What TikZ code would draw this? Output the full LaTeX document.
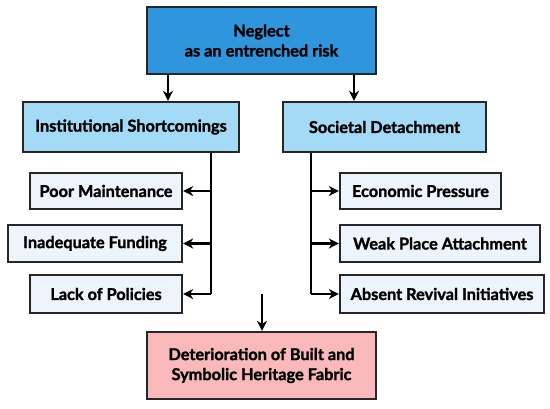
\documentclass[tikz,border=0pt]{standalone}
\usepackage{fontspec}
\setmainfont{Lato}[BoldFont={Lato Bold},BoldFeatures={FakeBold=1.5}]
\usetikzlibrary{arrows.meta}
\definecolor{topblue}{HTML}{2F95DC}
\definecolor{midblue}{HTML}{A3DBF6}
\definecolor{leafblue}{HTML}{EEF4FC}
\definecolor{pinkbox}{HTML}{F9B9BB}
\tikzset{
  box/.style={draw=black!85, line width=2.2pt, font=\bfseries\fontsize{16.3}{20}\selectfont, align=center, inner sep=0pt},
  arr/.style={line width=2.2pt, -{Stealth[length=10pt,width=10pt,inset=3pt]}},
  ln/.style={line width=2.2pt}
}
\begin{document}
\begin{tikzpicture}[x=1pt,y=-1pt]
\useasboundingbox (0,0) rectangle (550,408);
% top
\node[box, fill=topblue, minimum width=229pt, minimum height=67pt] (top) at (261.5,40.5) {Neglect\\as an entrenched risk};
% middle
\node[box, fill=midblue, minimum width=216pt, minimum height=50pt] (inst) at (131,127) {Institutional Shortcomings};
\node[box, fill=midblue, minimum width=203pt, minimum height=50pt] (soc) at (384.5,127) {Societal Detachment};
% leaves left
\node[box, fill=leafblue, minimum width=152pt, minimum height=36pt] (poor) at (106,191) {Poor Maintenance};
\node[box, fill=leafblue, minimum width=174pt, minimum height=37pt] (fund) at (95,243.5) {Inadequate Funding};
\node[box, fill=leafblue, minimum width=152pt, minimum height=38pt] (pol) at (106,294) {Lack of Policies};
% leaves right
\node[box, fill=leafblue, minimum width=161pt, minimum height=36pt] (eco) at (420.5,191) {Economic Pressure};
\node[box, fill=leafblue, minimum width=200pt, minimum height=37pt] (weak) at (440,243.5) {Weak Place Attachment};
\node[box, fill=leafblue, minimum width=204pt, minimum height=38pt] (abs) at (442,294) {Absent Revival Initiatives};
% bottom
\node[box, fill=pinkbox, minimum width=229pt, minimum height=67pt] (bot) at (261.5,365.5) {Deterioration of Built and\\Symbolic Heritage Fabric};
% connectors
\draw[arr] (top.south -| 168,0) -- (inst.north -| 168,0);
\draw[arr] (top.south -| 354,0) -- (soc.north -| 354,0);
\coordinate (lt) at (211,152);
\coordinate (lb) at (211,294);
\draw[ln] (inst.south -| lt) -- (lb);
\draw[arr] (211,191) -- (poor.east);
\draw[arr] (211,243.5) -- (fund.east);
\draw[arr] (lb) -- (pol.east);
\coordinate (rb) at (311,294);
\draw[ln] (soc.south -| rb) -- (rb);
\draw[arr] (311,191) -- (eco.west);
\draw[arr] (311,243.5) -- (weak.west);
\draw[arr] (rb) -- (abs.west);
\coordinate (bs) at (262,294);
\draw[arr] (bs) -- (bot.north -| bs);
\end{tikzpicture}
\end{document}
